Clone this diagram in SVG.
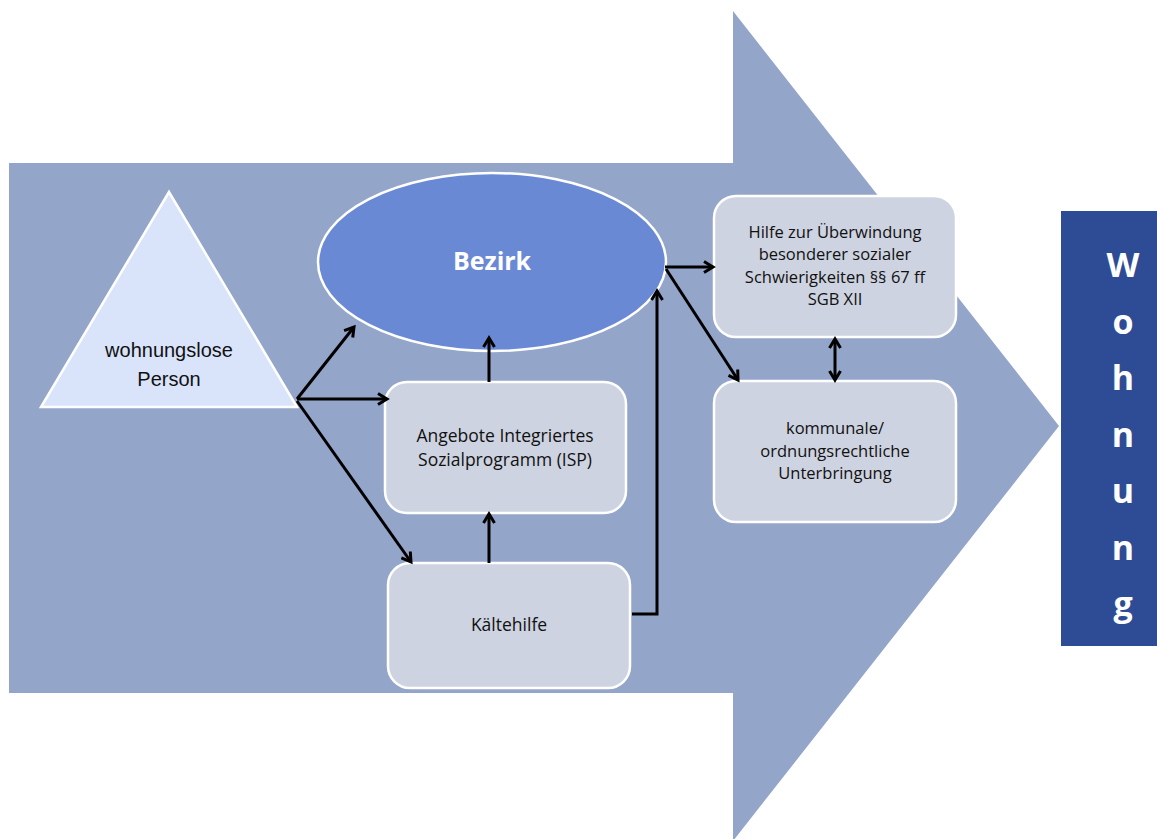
<svg xmlns="http://www.w3.org/2000/svg" width="1157" height="839" viewBox="0 0 1157 839">
<defs>
<style>
.box{fill:#CDD3E0;stroke:#FFFFFF;stroke-width:2.5}
.t{font-family:"Open Sans","Liberation Sans",sans-serif;font-size:17.5px;fill:#111;text-anchor:middle}
.s{font-size:16.5px}
.ta{font-family:"Liberation Sans",Arial,sans-serif;font-size:20px;fill:#111;text-anchor:middle}
.w{font-family:"Open Sans","Liberation Sans",sans-serif;font-size:34px;font-weight:bold;fill:#FFFFFF;text-anchor:middle}
.c{fill:none;stroke:#000;stroke-width:3;stroke-linejoin:miter}
</style>
<marker id="ah" viewBox="0 0 14 14" refX="11" refY="7" markerWidth="14" markerHeight="14" markerUnits="userSpaceOnUse" orient="auto-start-reverse">
<path d="M2,1.5 L11,7 L2,12.5" fill="none" stroke="#000" stroke-width="3"/>
</marker>
</defs>
<rect width="1157" height="839" fill="#FFFFFF"/>
<g id="bigarrow">
<path d="M9,163 L733,163 L733,11 L1059,426 L733,841 L733,693 L9,693 Z" fill="#94A5CA"/>
</g>
<g id="wohnung">
<rect x="1061" y="211" width="96" height="435" fill="#2E4C95"/>
<text class="w" x="1123" y="277">W</text>
<text class="w" x="1123" y="333.5">o</text>
<text class="w" x="1123" y="390">h</text>
<text class="w" x="1123" y="446.5">n</text>
<text class="w" x="1123" y="503">u</text>
<text class="w" x="1123" y="559.5">n</text>
<text class="w" x="1123" y="616">g</text>
</g>
<g id="person">
<polygon points="169,192 41,407 297,407" fill="#D9E4FB" stroke="#FFFFFF" stroke-width="2.5"/>
<text class="ta" x="169" y="357">wohnungslose</text>
<text class="ta" x="169" y="386">Person</text>
</g>
<g id="bezirk">
<ellipse cx="492" cy="262" rx="174" ry="89" fill="#6A89D4" stroke="#FFFFFF" stroke-width="2.5"/>
<text x="492" y="270" font-family="'Open Sans','Liberation Sans',sans-serif" font-size="25" font-weight="bold" fill="#FFFFFF" text-anchor="middle">Bezirk</text>
</g>
<g id="isp">
<rect class="box" x="385" y="382" width="241" height="131" rx="22"/>
<text class="t" x="505" y="442">Angebote Integriertes</text>
<text class="t" x="505" y="466">Sozialprogramm (ISP)</text>
</g>
<g id="kaeltehilfe">
<rect class="box" x="388" y="563" width="242" height="125" rx="22"/>
<text class="t" x="509" y="631">Kältehilfe</text>
</g>
<g id="hilfe67">
<rect class="box" x="714" y="196" width="242" height="141" rx="22"/>
<text class="t s" x="835" y="237.5">Hilfe zur Überwindung</text>
<text class="t s" x="835" y="260">besonderer sozialer</text>
<text class="t s" x="835" y="282.5">Schwierigkeiten §§ 67 ff</text>
<text class="t s" x="835" y="305">SGB XII</text>
</g>
<g id="unterbringung">
<rect class="box" x="714" y="381" width="242" height="141" rx="22"/>
<text class="t s" x="835" y="434">kommunale/</text>
<text class="t s" x="835" y="456.5">ordnungsrechtliche</text>
<text class="t s" x="835" y="479">Unterbringung</text>
</g>
<g id="connectors">
<path class="c" d="M297,399 L354,327" marker-end="url(#ah)"/>
<path class="c" d="M297,399 L387,399" marker-end="url(#ah)"/>
<path class="c" d="M297,401 L411,562" marker-end="url(#ah)"/>
<path class="c" d="M489,382 L489,338" marker-end="url(#ah)"/>
<path class="c" d="M489,563 L489,514" marker-end="url(#ah)"/>
<path class="c" d="M632,614 L657,614 L657,291" marker-end="url(#ah)"/>
<path class="c" d="M665,267 L713,267" marker-end="url(#ah)"/>
<path class="c" d="M666,269 L738,380" marker-end="url(#ah)"/>
<path class="c" d="M835,339 L835,380" marker-start="url(#ah)" marker-end="url(#ah)"/>
</g>
</svg>
